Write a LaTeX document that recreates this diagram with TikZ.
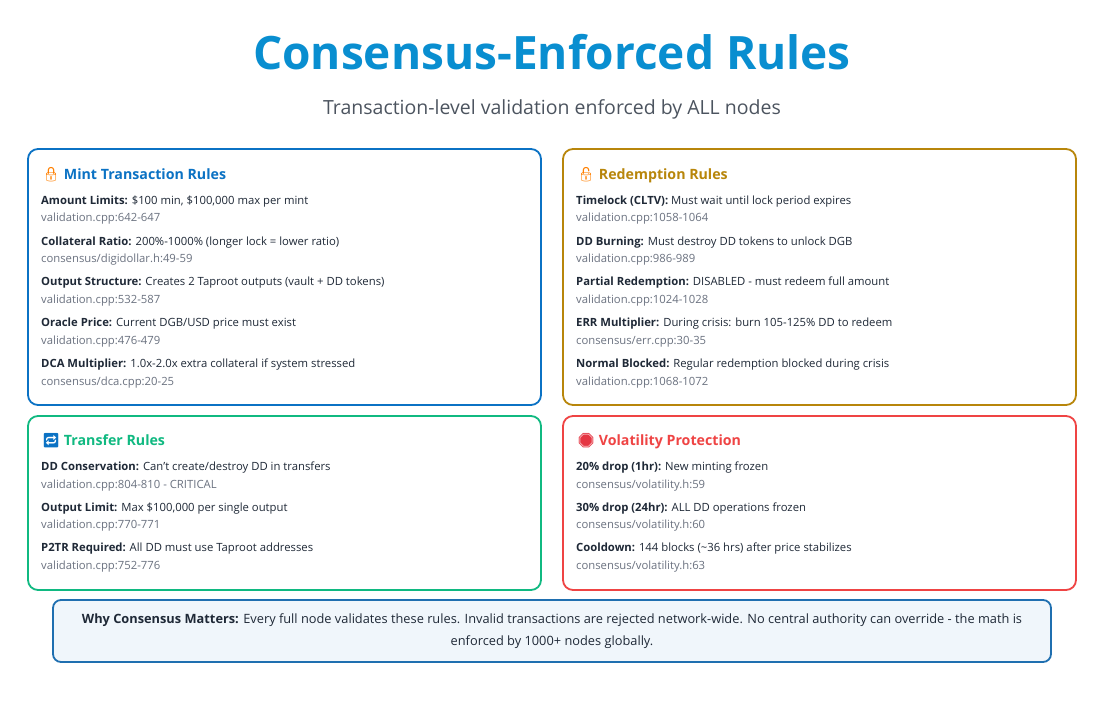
\documentclass[tikz,border=0pt]{standalone}
\usepackage{fontspec}
\setmainfont{Open Sans}
\newfontfamily\emojifont{Noto Emoji}
\usetikzlibrary{positioning}
\definecolor{mintblue}{HTML}{0B72C4}
\definecolor{redgold}{HTML}{B8860B}
\definecolor{transgreen}{HTML}{10B981}
\definecolor{volred}{HTML}{EF4444}
\definecolor{reftext}{HTML}{6B7280}
\definecolor{bodytext}{HTML}{1F2937}
\definecolor{notefill}{HTML}{F0F6FB}
\definecolor{noteline}{HTML}{1F6FB0}

\begin{document}
\begin{tikzpicture}[x=1pt,y=-1pt,
  card/.style={rounded corners=10pt, line width=1.8pt, fill=white},
  cardtitle/.style={anchor=west, inner sep=0pt, font=\fontsize{14.2}{16}\selectfont\bfseries},
  item/.style={anchor=west, inner sep=0pt, text=bodytext, font=\fontsize{11.3}{13}\selectfont},
  ref/.style={anchor=west, inner sep=0pt, text=reftext, font=\fontsize{11.3}{13}\selectfont}
]
  \useasboundingbox (0,0) rectangle (1105,716);

  % heading
  \node[inner sep=0pt, text=mintblue!80!cyan, font=\fontsize{46}{52}\selectfont\bfseries] (title) at (552,52) {Consensus-Enforced Rules};
  \node[inner sep=0pt, text=bodytext!80, font=\fontsize{19.5}{22}\selectfont] (subtitle) at (552,109) {Transaction-level validation enforced by ALL nodes};

  % mint
  \draw[card, draw=mintblue] (28,149) rectangle (541,405);
  \node[cardtitle, text=mintblue] (minttitle) at (42,175) {{\emojifont\textcolor{orange}{🔒}}\ Mint Transaction Rules};
  \node[item] (mint1) at (41,202) {\textbf{Amount Limits:} \$100 min, \$100,000 max per mint};
  \node[ref] (mint1r) at (41,219) {validation.cpp:642-647};
  \node[item] (mint2) at (41,243) {\textbf{Collateral Ratio:} 200\%-1000\% (longer lock = lower ratio)};
  \node[ref] (mint2r) at (41,260) {consensus/digidollar.h:49-59};
  \node[item] (mint3) at (41,283) {\textbf{Output Structure:} Creates 2 Taproot outputs (vault + DD tokens)};
  \node[ref] (mint3r) at (41,301) {validation.cpp:532-587};
  \node[item] (mint4) at (41,324) {\textbf{Oracle Price:} Current DGB/USD price must exist};
  \node[ref] (mint4r) at (41,342) {validation.cpp:476-479};
  \node[item] (mint5) at (41,365) {\textbf{DCA Multiplier:} 1.0x-2.0x extra collateral if system stressed};
  \node[ref] (mint5r) at (41,383) {consensus/dca.cpp:20-25};

  % redemption
  \draw[card, draw=redgold] (563,149) rectangle (1076,405);
  \node[cardtitle, text=redgold] (redtitle) at (577,175) {{\emojifont\textcolor{orange}{🔓}}\ Redemption Rules};
  \node[item] (red1) at (576,202) {\textbf{Timelock (CLTV):} Must wait until lock period expires};
  \node[ref] (red1r) at (576,219) {validation.cpp:1058-1064};
  \node[item] (red2) at (576,243) {\textbf{DD Burning:} Must destroy DD tokens to unlock DGB};
  \node[ref] (red2r) at (576,260) {validation.cpp:986-989};
  \node[item] (red3) at (576,283) {\textbf{Partial Redemption:} DISABLED - must redeem full amount};
  \node[ref] (red3r) at (576,301) {validation.cpp:1024-1028};
  \node[item] (red4) at (576,324) {\textbf{ERR Multiplier:} During crisis: burn 105-125\% DD to redeem};
  \node[ref] (red4r) at (576,342) {consensus/err.cpp:30-35};
  \node[item] (red5) at (576,365) {\textbf{Normal Blocked:} Regular redemption blocked during crisis};
  \node[ref] (red5r) at (576,383) {validation.cpp:1068-1072};

  % transfer
  \draw[card, draw=transgreen] (28,416) rectangle (541,590);
  \node[cardtitle, text=transgreen] (transtitle) at (42,441) {{\emojifont\textcolor{mintblue}{🔁}}\ Transfer Rules};
  \node[item] (trans1) at (41,468) {\textbf{DD Conservation:} Can't create/destroy DD in transfers};
  \node[ref] (trans1r) at (41,486) {validation.cpp:804-810 - CRITICAL};
  \node[item] (trans2) at (41,509) {\textbf{Output Limit:} Max \$100,000 per single output};
  \node[ref] (trans2r) at (41,526) {validation.cpp:770-771};
  \node[item] (trans3) at (41,549) {\textbf{P2TR Required:} All DD must use Taproot addresses};
  \node[ref] (trans3r) at (41,567) {validation.cpp:752-776};

  % volatility
  \draw[card, draw=volred] (563,416) rectangle (1076,590);
  \node[cardtitle, text=volred] (voltitle) at (577,441) {{\emojifont\textcolor{volred!80!purple}{🛑}}\ Volatility Protection};
  \node[item] (vol1) at (576,468) {\textbf{20\% drop (1hr):} New minting frozen};
  \node[ref] (vol1r) at (576,486) {consensus/volatility.h:59};
  \node[item] (vol2) at (576,509) {\textbf{30\% drop (24hr):} ALL DD operations frozen};
  \node[ref] (vol2r) at (576,526) {consensus/volatility.h:60};
  \node[item] (vol3) at (576,549) {\textbf{Cooldown:} 144 blocks (\textasciitilde36 hrs) after price stabilizes};
  \node[ref] (vol3r) at (576,567) {consensus/volatility.h:63};

  % note
  \draw[card, draw=noteline, fill=notefill, rounded corners=8pt] (53,600) rectangle (1051,662);
  \node[inner sep=0pt, text=bodytext, align=center, font=\fontsize{12.8}{22}\selectfont] (note) at (552,631)
    {\textbf{Why Consensus Matters:} Every full node validates these rules. Invalid transactions are rejected network-wide. No central authority can override - the math is\\ enforced by 1000+ nodes globally.};
\end{tikzpicture}
\end{document}
